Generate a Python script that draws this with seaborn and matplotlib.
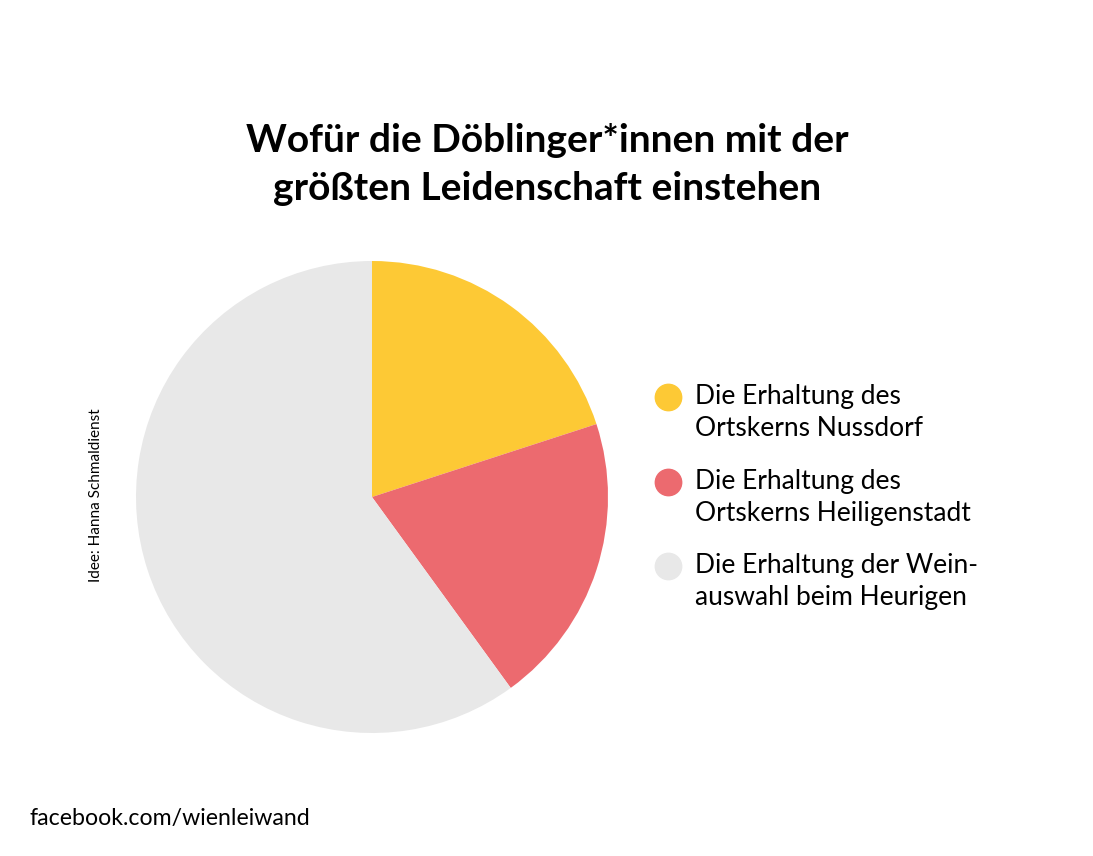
import matplotlib
matplotlib.use("Agg")
import matplotlib.pyplot as plt
from matplotlib.lines import Line2D
import seaborn as sns

# data
labels = [
    ["Die Erhaltung des", "Ortskerns Nussdorf"],
    ["Die Erhaltung des", "Ortskerns Heiligenstadt"],
    ["Die Erhaltung der Wein-", "auswahl beim Heurigen"],
]
shares = [20, 20, 60]
colors = ["#FDC935", "#EC6A6F", "#E8E8E8"]

sns.set_theme(style="white")
plt.rcParams['font.family'] = ['Lato', 'DejaVu Sans']
plt.rcParams['text.color'] = 'black'

W, H = 1093, 856
fig = plt.figure(figsize=(W / 100, H / 100), dpi=100)
fig.patch.set_facecolor("white")

cx, cy, r = 372, 497, 236
ax = fig.add_axes([(cx - r) / W, (H - cy - r) / H, 2 * r / W, 2 * r / H])
ax.pie(shares, colors=colors, startangle=90, counterclock=False,
       radius=1, wedgeprops=dict(linewidth=0))
ax.set_xlim(-1, 1)
ax.set_ylim(-1, 1)
ax.set_aspect("equal")
ax.axis("off")

fig.text(547 / W, 1 - 140 / H, "Wofür die Döblinger*innen mit der",
         ha="center", va="center", fontsize=28, fontweight="bold")
fig.text(547 / W, 1 - 188 / H, "größten Leidenschaft einstehen",
         ha="center", va="center", fontsize=28, fontweight="bold")

# legend drawn by hand: marker aligned with the first text line
for i, (lines, c) in enumerate(zip(labels, colors)):
    y0 = 397 + i * 84.5
    fig.add_artist(Line2D([668 / W], [1 - y0 / H], marker="o", markersize=19,
                          linestyle="none", markerfacecolor=c,
                          markeredgecolor=c, transform=fig.transFigure))
    for j, line in enumerate(lines):
        fig.text(695 / W, 1 - (y0 + j * 32) / H, line, ha="left",
                 va="center", fontsize=19)

fig.text(96 / W, 1 - 495 / H, "Idee: Hanna Schmaldienst", rotation=90,
         ha="center", va="center", fontsize=11)
fig.text(30 / W, 1 - 819 / H, "facebook.com/wienleiwand",
         ha="left", va="center", fontsize=16.7)

fig.savefig("out.png", dpi=100, facecolor="white")
